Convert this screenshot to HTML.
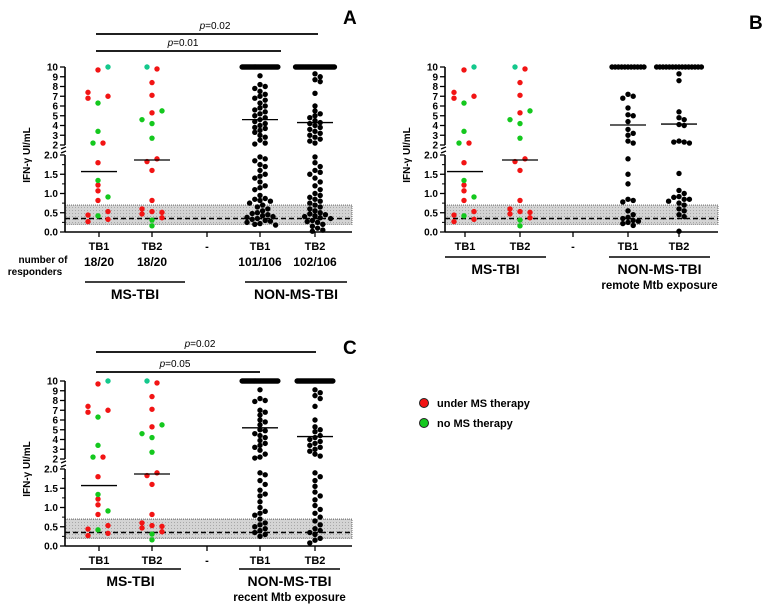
<!DOCTYPE html>
<html><head><meta charset="utf-8"><style>
body{margin:0;background:#fff;}
svg{display:block;font-family:"Liberation Sans",sans-serif;}
</style></head><body>
<svg id="fig" width="771" height="611" viewBox="0 0 771 611" xmlns="http://www.w3.org/2000/svg">
<defs>
<pattern id="dots" width="3" height="3" patternUnits="userSpaceOnUse"><rect width="3" height="3" fill="#d4d4d4"/><rect width="1" height="1" fill="#a8a8a8"/></pattern>
</defs>
</svg>
<script>
// ---------- data ----------
const categories = ["TB1","TB2","-","TB1","TB2"];
const msTb1Red = [9.7,7.4,6.8,7.0,2.2,1.8,1.22,1.07,0.82,0.44,0.27,0.53,0.33];
const msTb1RedDx = [-1,-11,-11,9,4,-1,-1,-1,-1,-11,-11,9,9];
const msTb1Green = [10,6.3,3.4,2.2,1.34,0.91,0.42];
const msTb1GreenDx = [9,-1,-1,-6,-1,9,-1];
const msTb2Red = [9.8,8.4,7.1,5.3,1.9,1.83,1.6,0.82,0.6,0.47,0.53,0.51,0.37];
const msTb2RedDx = [5,0,0,0,5,-5,0,0,-10,-10,0,10,10];
const msTb2Green = [10,5.5,4.6,4.2,2.7,0.31,0.16];
const msTb2GreenDx = [-5,10,-10,0,0,0,0];
const msMedians = [1.57,1.87];
const responders = ["18/20","18/20","","101/106","102/106"];

const aTb1Top = 35;
const aTb1 = [9.1,8.2,8.0,7.8,7.5,7.2,7.0,6.8,6.6,6.3,6.0,5.8,5.6,5.4,5.2,5.0,4.8,4.6,4.4,4.2,4.0,3.8,3.7,3.5,3.3,3.0,2.8,2.5,2.2,2.1,1.95,1.9,1.85,1.75,1.7,1.6,1.5,1.45,1.4,1.3,1.2,1.15,1.1,0.95,0.87,0.85,0.82,0.8,0.75,0.7,0.65,0.6,0.55,0.5,0.48,0.45,0.42,0.4,0.38,0.35,0.33,0.3,0.28,0.25,0.22,0.2,0.18];
const aTb2Top = 38;
const aTb2 = [9.3,9.0,8.7,8.5,7.3,6.0,5.5,5.2,5.0,4.8,4.5,4.3,4.2,4.0,3.8,3.6,3.4,3.2,3.0,2.8,2.6,2.4,2.2,1.95,1.8,1.7,1.6,1.55,1.5,1.4,1.3,1.2,1.1,1.0,0.95,0.9,0.85,0.8,0.75,0.7,0.65,0.6,0.55,0.5,0.47,0.45,0.42,0.4,0.37,0.35,0.3,0.27,0.25,0.2,0.15,0.1,0.05,0.02];
const aMedians = [4.6,4.3];

const bTb1Top = 11;
const bTb1 = [7.2,7.0,6.8,5.8,5.1,5.0,4.4,3.6,3.2,3.0,2.4,2.2,1.9,1.5,1.25,0.85,0.82,0.78,0.55,0.45,0.38,0.35,0.3,0.28,0.25,0.22,0.17];
const bTb2Top = 15;
const bTb2 = [9.3,8.6,5.4,4.8,4.6,4.1,4.0,2.4,2.3,2.3,2.2,1.52,1.08,1.0,0.92,0.9,0.85,0.85,0.8,0.75,0.7,0.6,0.55,0.45,0.4,0.02];
const bMedians = [4.05,4.15];

const cTb1Top = 35;
const cTb1 = [9.1,8.2,8.0,7.9,7.0,6.8,6.5,6.0,5.8,5.5,5.0,4.9,4.6,4.4,4.2,3.9,3.6,3.4,3.2,2.9,2.5,2.2,2.1,1.9,1.85,1.7,1.6,1.45,1.35,1.3,1.15,1.0,0.9,0.85,0.8,0.7,0.6,0.55,0.5,0.45,0.4,0.35,0.3,0.25];
const cTb2Top = 35;
const cTb2 = [9.1,8.8,8.5,8.2,7.4,6.0,5.3,5.0,4.8,4.4,4.2,4.0,3.8,3.6,3.4,3.2,3.0,2.8,2.5,2.3,1.9,1.8,1.7,1.55,1.4,1.3,1.2,1.05,0.95,0.85,0.75,0.65,0.55,0.45,0.4,0.35,0.3,0.2,0.15,0.08];
const cMedians = [5.2,4.3];

const lowTicks = ["0.0","0.5","1.0","1.5","2.0"];
const highTicks = ["2","3","4","5","6","7","8","9","10"];
const bandLow = 0.2, bandHigh = 0.7, cutoff = 0.35;

const RED="#f21414", GREEN="#14c81e", GREEN10="#14c88c";
const svg=document.getElementById('fig');
const NS="http://www.w3.org/2000/svg";
function mk(tag,attrs,parent,text){const e=document.createElementNS(NS,tag);for(const k in attrs)e.setAttribute(k,attrs[k]);if(text!==undefined)e.textContent=text;(parent||svg).appendChild(e);return e;}

function panel(o){
  const g=mk('g',{});
  
  
  const y0=o.y0;
  function yScale(v){ if(v<=2) return y0 - v*38.5; return (y0-87) - (v-2)*9.75; }
  const ax=o.ax, axEnd=o.axEnd;
  const band=mk('rect',{x:ax,y:yScale(bandHigh),width:axEnd-ax,height:yScale(bandLow)-yScale(bandHigh),fill:'url(#dots)',stroke:'#555','stroke-width':0.8,'stroke-dasharray':'1,1'},g);
  
  const cl=mk('line',{x1:ax,x2:axEnd,y1:yScale(cutoff),y2:yScale(cutoff),stroke:'#000','stroke-width':1.5,'stroke-dasharray':'5,3'},g);
  
  const axg=mk('g',{},g);
  mk('line',{x1:ax,x2:ax,y1:yScale(0),y2:yScale(2),stroke:'#000','stroke-width':1.6},axg);
  mk('line',{x1:ax,x2:ax,y1:yScale(2.0001),y2:yScale(10),stroke:'#000','stroke-width':1.6},axg);
  mk('line',{x1:ax-4,x2:ax+1,y1:yScale(2)-2,y2:yScale(2)-4,stroke:'#000','stroke-width':1.3},axg);
  mk('line',{x1:ax-4,x2:ax+1,y1:yScale(2.0001)+4,y2:yScale(2.0001)+2,stroke:'#000','stroke-width':1.3},axg);
  lowTicks.forEach(t=>{const v=parseFloat(t);const y=yScale(v);
    mk('line',{x1:ax-5,x2:ax,y1:y,y2:y,stroke:'#000','stroke-width':1.3},axg);
    const tx=mk('text',{x:ax-7,y:y+3.5,'font-size':10,'font-weight':'bold','text-anchor':'end'},axg,t);
    });
  [0.25,0.75,1.25,1.75].forEach(v=>{const y=yScale(v);mk('line',{x1:ax-3,x2:ax,y1:y,y2:y,stroke:'#000','stroke-width':1},axg);});
  highTicks.forEach(t=>{const v=parseFloat(t);const y=yScale(v+(v===2?0.0001:0));
    mk('line',{x1:ax-5,x2:ax,y1:y,y2:y,stroke:'#000','stroke-width':1.3},axg);
    const tx=mk('text',{x:ax-7,y:y+3.5,'font-size':10,'font-weight':'bold','text-anchor':'end'},axg,t);
    });
  const xa=mk('line',{x1:ax,x2:axEnd,y1:y0,y2:y0,stroke:'#000','stroke-width':1.6},g);
  
  const yt=mk('text',{x:0,y:0,'font-size':10,'font-weight':'bold','text-anchor':'middle',transform:`translate(${ax-35},${yScale(2)}) rotate(-90)`},g,'IFN-γ UI/mL');
  
  categories.forEach((c,i)=>{const x=o.cx[i];
    mk('line',{x1:x,x2:x,y1:y0,y2:y0+5,stroke:'#000','stroke-width':1.3},g);
    const t=mk('text',{x:x,y:y0+18,'font-size':11,'font-weight':'bold','text-anchor':'middle'},g,c);
    });
  function dot(x,y,fill,name){const c=mk('circle',{cx:x,cy:y,r:2.7,fill:fill},g);}
  msTb1Red.forEach((v,i)=>dot(o.cx[0]+msTb1RedDx[i],yScale(v),RED,'ms-tb1-point-red'));
  msTb1Green.forEach((v,i)=>dot(o.cx[0]+msTb1GreenDx[i],yScale(v),v>=10?GREEN10:GREEN,'ms-tb1-point-green'));
  msTb2Red.forEach((v,i)=>dot(o.cx[1]+msTb2RedDx[i],yScale(v),RED,'ms-tb2-point-red'));
  msTb2Green.forEach((v,i)=>dot(o.cx[1]+msTb2GreenDx[i],yScale(v),v>=10?GREEN10:GREEN,'ms-tb2-point-green'));
  function swarm(cx,top,vals,name,topStep){
    const y10=yScale(10);
    for(let k=0;k<top;k++){const dx=(k-(top-1)/2)*topStep;dot(cx+dx,y10,'#000',name);}
    const placed=[];
    vals.forEach(v=>{const y=yScale(v);let dx=0;
      for(let s=0;s<40;s++){const cand=s===0?0:(s%2?1:-1)*Math.ceil(s/2)*2.6;
        if(placed.every(p=>Math.hypot(p[0]-cand,p[1]-y)>=4.8)){dx=cand;break;}}
      placed.push([dx,y]);dot(cx+dx,y,'#000',name);});
  }
  swarm(o.cx[3],o.top1,o.v1,'non-ms-tb1-point',o.topStep);
  swarm(o.cx[4],o.top2,o.v2,'non-ms-tb2-point',o.topStep);
  const meds=[msMedians[0],msMedians[1],o.med[0],o.med[1]];
  [0,1,3,4].forEach((ci,j)=>{const y=yScale(meds[j]);
    const l=mk('line',{x1:o.cx[ci]-18,x2:o.cx[ci]+18,y1:y,y2:y,stroke:'#000','stroke-width':1.3},g);
    });
  const L=mk('text',{x:o.lx,y:o.ly,'font-size':19,'font-weight':'bold'},g,o.letter);
  
  (o.sig||[]).forEach(s=>{const l=mk('line',{x1:o.cx[0]-3,x2:s.x2,y1:s.y,y2:s.y,stroke:'#000','stroke-width':1.8},g);
    
    const t=mk('text',{x:s.tx,y:s.y-5,'font-size':10,'text-anchor':'middle'},g);
    
    mk('tspan',{'font-style':'italic'},t,'p');mk('tspan',{},t,'='+s.p);});
  o.groups.forEach(gr=>{const l=mk('line',{x1:gr.x1,x2:gr.x2,y1:gr.y,y2:gr.y,stroke:'#000','stroke-width':1.6},g);
    
    gr.lines.forEach((ln,k)=>{const t=mk('text',{x:(gr.x1+gr.x2)/2,y:gr.y+17+k*15,'font-size':k?11.5:14,'font-weight':'bold','text-anchor':'middle'},g,ln);
      });});
  return {yScale,g};
}

panel({letter:'A',lx:343,ly:24,y0:232,ax:65,axEnd:352,cx:[99,152,207,260,315],top1:aTb1Top,v1:aTb1,top2:aTb2Top,v2:aTb2,med:aMedians,topStep:1.05,
  sig:[{y:34,x2:318,p:'0.02',tx:215},{y:51,x2:281,p:'0.01',tx:183}],
  groups:[{x1:85,x2:185,y:282,lines:['MS-TBI']},{x1:245,x2:347,y:282,lines:['NON-MS-TBI']}]});
const rg=mk('g',{});
mk('text',{x:43,y:263,'font-size':10,'font-weight':'bold','text-anchor':'middle'},rg,'number of');
mk('text',{x:35,y:275,'font-size':10,'font-weight':'bold','text-anchor':'middle'},rg,'responders');
responders.forEach((r,i)=>{if(!r)return;const t=mk('text',{x:[99,152,207,260,315][i],y:266,'font-size':12,'font-weight':'bold','text-anchor':'middle'},rg,r);
  });

panel({letter:'B',lx:749,ly:29,y0:232,ax:445,axEnd:718,cx:[465,520,573,628,679],top1:bTb1Top,v1:bTb1,top2:bTb2Top,v2:bTb2,med:bMedians,topStep:3.2,
  groups:[{x1:445,x2:546,y:257,lines:['MS-TBI']},{x1:609,x2:710,y:257,lines:['NON-MS-TBI','remote Mtb exposure']}]});

panel({letter:'C',lx:343,ly:354,y0:546,ax:65,axEnd:352,cx:[99,152,207,260,315],top1:cTb1Top,v1:cTb1,top2:cTb2Top,v2:cTb2,med:cMedians,topStep:1.05,
  sig:[{y:352,x2:316,p:'0.02',tx:200},{y:372,x2:260,p:'0.05',tx:175}],
  groups:[{x1:80,x2:181,y:569,lines:['MS-TBI']},{x1:239,x2:340,y:569,lines:['NON-MS-TBI','recent Mtb exposure']}]});

const lg=mk('g',{});
[[403,RED,'under MS therapy'],[423,GREEN,'no MS therapy']].forEach(([y,c,t])=>{
  const e=mk('g',{},lg);
  mk('circle',{cx:424,cy:y,r:4.5,fill:c,stroke:'#222','stroke-width':1},e);
  mk('text',{x:437,y:y+4,'font-size':11,'font-weight':'bold'},e,t);});
</script>
</body></html>
